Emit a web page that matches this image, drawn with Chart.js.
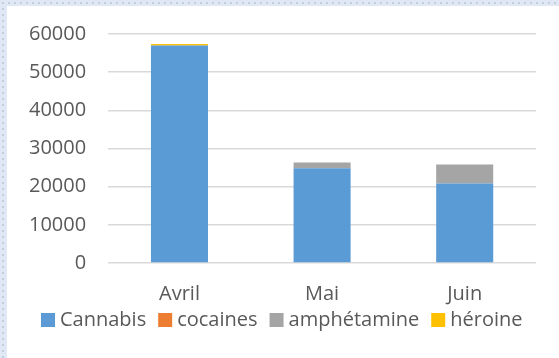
<!DOCTYPE html>
<html>
<head>
<meta charset="utf-8">
<script src="https://cdn.jsdelivr.net/npm/chart.js@4.4.0/dist/chart.umd.min.js"></script>
<style>
  html, body { margin: 0; padding: 0; }
  body {
    width: 559px; height: 358px; overflow: hidden; position: relative;
    background-color: #dfe8f4;
    background-image: radial-gradient(#c3cedb 0.8px, transparent 1px);
    background-size: 6px 6px;
  }
  #box { position: absolute; left: 7px; top: 6px; width: 552px; height: 352px; background: #fff; }
  #chart { position: absolute; left: 7px; top: 0; }
</style>
</head>
<body>
<div id="box"></div>
<canvas id="chart" width="552" height="358"></canvas>
<script>
// mois et valeurs
const mois = ["Avril", "Mai", "Juin"];
const cannabis = [57000, 24800, 20800];
const cocaines = [0, 0, 0];
const amphetamine = [0, 1500, 5000];
const heroine = [350, 0, 0];
const yTicks = [0, 10000, 20000, 30000, 40000, 50000, 60000];

Chart.defaults.font.family = '"Open Sans", sans-serif';
Chart.defaults.font.size = 20;
Chart.defaults.color = "#595959";

// légende dessinée à la main, style Excel (carré puis texte)
const legendePlugin = {
  id: "legende",
  afterDraw(chart) {
    const c = chart.ctx;
    const y = chart.scales.y.getPixelForValue(0) + 57;
    let x = 34;
    c.save();
    c.font = '20px "Open Sans"';
    c.textBaseline = "middle";
    chart.data.datasets.forEach((ds) => {
      c.fillStyle = ds.backgroundColor;
      c.fillRect(x, y - 7, 14, 14);
      x += 14 + 5;
      c.fillStyle = "#595959";
      c.fillText(ds.label, x, y);
      x += c.measureText(ds.label).width + 12;
    });
    c.restore();
  },
};

const ctx = document.getElementById("chart").getContext("2d");
new Chart(ctx, {
  type: "bar",
  data: {
    labels: mois,
    datasets: [
      { label: "Cannabis", data: cannabis, backgroundColor: "#5b9bd5" },
      { label: "cocaines", data: cocaines, backgroundColor: "#ed7d31" },
      { label: "amphétamine", data: amphetamine, backgroundColor: "#a5a5a5" },
      { label: "héroine", data: heroine, backgroundColor: "#ffc000" },
    ],
  },
  options: {
    responsive: false,
    animation: false,
    categoryPercentage: 1,
    barPercentage: 0.4,
    layout: { padding: { left: 0, right: 23, top: 0, bottom: 41 } },
    plugins: {
      legend: { display: false },
      tooltip: { enabled: false },
    },
    scales: {
      x: {
        stacked: true,
        grid: { display: false },
        border: { display: false },
        ticks: { padding: 11 },
      },
      y: {
        stacked: true,
        min: 0,
        max: 60000,
        afterBuildTicks: (axis) => { axis.ticks = yTicks.map((v) => ({ value: v })); },
        grid: { color: "#d9d9d9", lineWidth: 1.5, drawTicks: false },
        border: { display: false },
        ticks: { padding: 22, callback: (v) => String(v) },
      },
    },
  },
  plugins: [legendePlugin],
});
</script>
</body>
</html>
